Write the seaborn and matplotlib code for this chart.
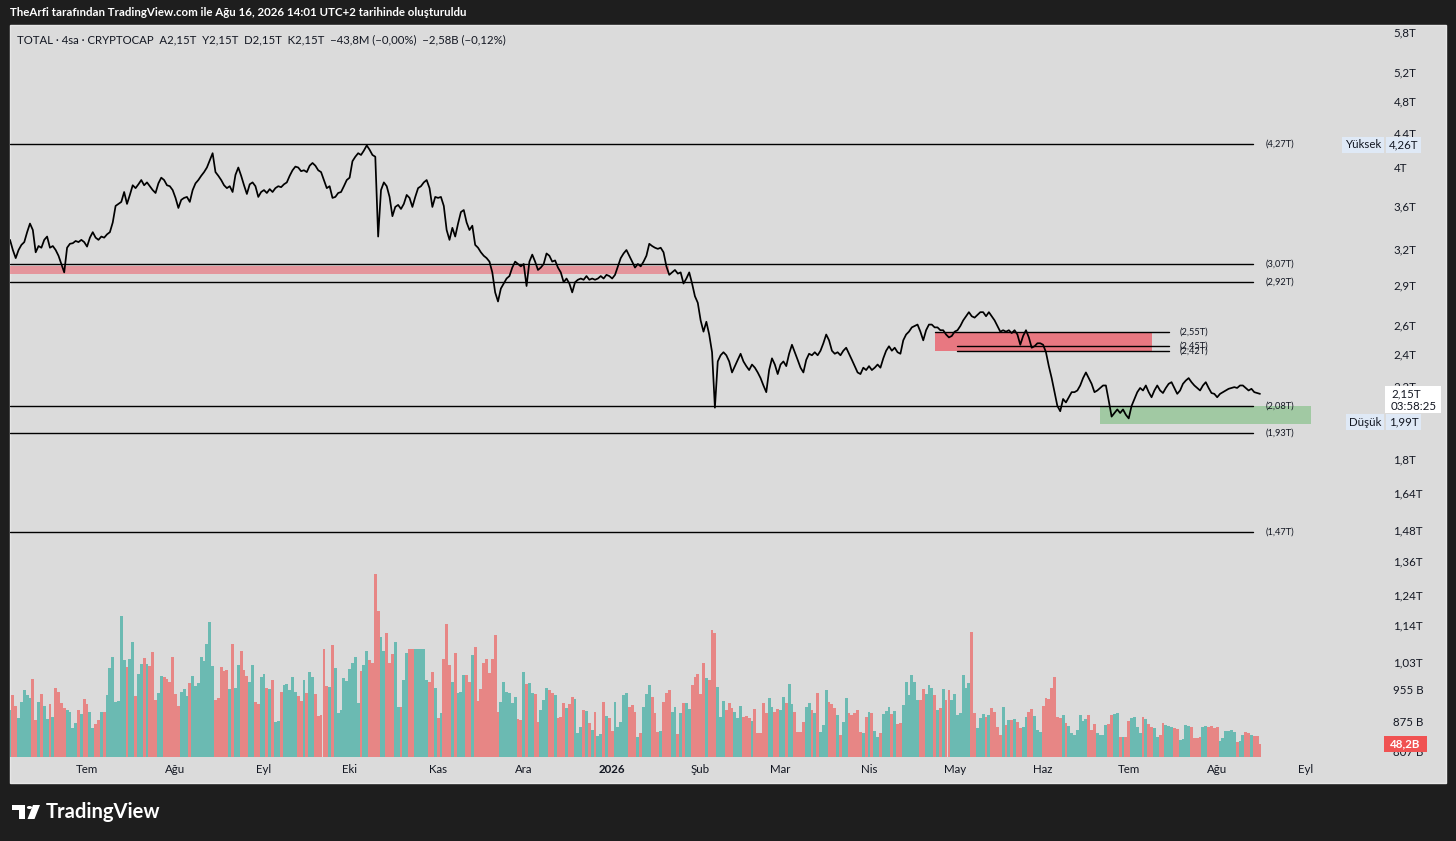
# TOTAL crypto market cap, 4h chart snapshot (TradingView style)

import matplotlib
matplotlib.use("Agg")
import matplotlib.pyplot as plt
from matplotlib.patches import Rectangle, Polygon, Circle
from matplotlib.ticker import NullLocator
import pandas as pd
import seaborn as sns

# ---- data ----------------------------------------------------------------
start_day = "2025-06-04"

# daily closes, trillion USD
price_t = [
    3.28, 3.19, 3.12, 3.19, 3.235, 3.26, 3.35, 3.43, 3.37, 3.17,
    3.225, 3.21, 3.28, 3.31, 3.21, 3.225, 3.19, 3.14, 3.07, 3.00,
    3.21, 3.245, 3.25, 3.27, 3.26, 3.28, 3.26, 3.22, 3.30, 3.35,
    3.30, 3.28, 3.31, 3.30, 3.33, 3.35, 3.44, 3.60, 3.62, 3.64,
    3.74, 3.62, 3.71, 3.81, 3.78, 3.82, 3.865, 3.81, 3.84, 3.80,
    3.76, 3.73, 3.83, 3.89, 3.865, 3.81, 3.80, 3.76, 3.68, 3.58,
    3.66, 3.68, 3.69, 3.64, 3.76, 3.83, 3.865, 3.91, 3.95, 4.00,
    4.08, 4.16, 3.95, 3.91, 3.865, 3.81, 3.78, 3.80, 3.74, 3.92,
    4.00, 3.91, 3.81, 3.72, 3.82, 3.84, 3.80, 3.69, 3.74, 3.76,
    3.73, 3.77, 3.74, 3.78, 3.80, 3.79, 3.82, 3.84, 3.91, 3.97,
    4.01, 4.00, 3.96, 3.97, 3.95, 4.02, 4.05, 4.02, 3.97, 3.95,
    3.865, 3.78, 3.80, 3.68, 3.69, 3.73, 3.74, 3.80, 3.865, 3.89,
    4.07, 4.12, 4.16, 4.14, 4.19, 4.25, 4.20, 4.14, 4.12, 3.31,
    3.76, 3.84, 3.80, 3.69, 3.50, 3.59, 3.61, 3.57, 3.62, 3.71,
    3.68, 3.59, 3.69, 3.78, 3.80, 3.84, 3.865, 3.78, 3.59, 3.69,
    3.68, 3.69, 3.60, 3.37, 3.28, 3.39, 3.31, 3.43, 3.54, 3.56,
    3.44, 3.37, 3.41, 3.235, 3.21, 3.17, 3.14, 3.12, 3.09, 3.00,
    2.84, 2.77, 2.87, 2.91, 2.95, 2.97, 3.04, 3.09, 3.07, 3.05,
    3.07, 2.89, 3.09, 3.15, 3.09, 3.02, 3.04, 3.07, 3.16, 3.14,
    3.09, 3.10, 3.04, 3.00, 2.92, 2.95, 2.91, 2.84, 2.92, 2.94,
    2.95, 2.94, 2.97, 2.94, 2.95, 2.94, 2.95, 2.97, 2.95, 2.98,
    2.97, 2.95, 2.98, 3.05, 3.12, 3.16, 3.19, 3.14, 3.09, 3.04,
    3.07, 3.05, 3.09, 3.14, 3.245, 3.225, 3.21, 3.20, 3.21, 3.17,
    3.05, 2.98, 3.00, 3.02, 2.99, 3.00, 2.91, 2.95, 3.00, 2.91,
    2.81, 2.76, 2.63, 2.55, 2.62, 2.53, 2.41, 2.07, 2.35, 2.39,
    2.41, 2.39, 2.35, 2.28, 2.32, 2.36, 2.40, 2.35, 2.32, 2.295,
    2.33, 2.31, 2.28, 2.245, 2.20, 2.16, 2.295, 2.37, 2.33, 2.27,
    2.33, 2.35, 2.32, 2.40, 2.46, 2.41, 2.36, 2.31, 2.28, 2.36,
    2.40, 2.39, 2.41, 2.39, 2.42, 2.47, 2.53, 2.49, 2.42, 2.40,
    2.41, 2.39, 2.42, 2.44, 2.40, 2.36, 2.32, 2.28, 2.27, 2.31,
    2.295, 2.32, 2.295, 2.31, 2.33, 2.31, 2.37, 2.42, 2.45, 2.42,
    2.44, 2.41, 2.40, 2.49, 2.53, 2.55, 2.58, 2.59, 2.60, 2.55,
    2.49, 2.56, 2.60, 2.60, 2.58, 2.58, 2.56, 2.56, 2.53, 2.51,
    2.52, 2.55, 2.56, 2.59, 2.63, 2.66, 2.69, 2.66, 2.65, 2.67,
    2.69, 2.69, 2.66, 2.69, 2.66, 2.63, 2.59, 2.55, 2.56, 2.55,
    2.56, 2.54, 2.56, 2.53, 2.46, 2.52, 2.56, 2.51, 2.44, 2.45,
    2.47, 2.47, 2.46, 2.41, 2.32, 2.245, 2.16, 2.08, 2.05, 2.12,
    2.10, 2.13, 2.16, 2.16, 2.17, 2.20, 2.245, 2.28, 2.245, 2.21,
    2.16, 2.17, 2.185, 2.20, 2.20, 2.11, 2.02, 2.04, 2.06, 2.04,
    2.06, 2.03, 2.01, 2.08, 2.12, 2.16, 2.185, 2.17, 2.20, 2.16,
    2.13, 2.17, 2.20, 2.17, 2.155, 2.185, 2.21, 2.22, 2.185, 2.15,
    2.17, 2.21, 2.23, 2.245, 2.22, 2.20, 2.185, 2.17, 2.20, 2.22,
    2.185, 2.155, 2.15, 2.13, 2.15, 2.16, 2.17, 2.18, 2.185, 2.19,
    2.185, 2.20, 2.20, 2.185, 2.17, 2.18, 2.16, 2.155, 2.15,
]

# daily volume, billion USD
volume_b = [
    188, 248, 204, 156, 220, 268, 248, 236, 312, 148,
    220, 252, 204, 152, 212, 160, 276, 260, 216, 196,
    188, 180, 116, 136, 188, 172, 232, 212, 180, 116,
    132, 148, 180, 180, 248, 356, 400, 220, 224, 564,
    388, 360, 392, 460, 244, 332, 372, 396, 372, 364,
    420, 228, 256, 324, 320, 312, 300, 400, 252, 204,
    260, 272, 244, 296, 324, 284, 296, 400, 384, 452,
    540, 364, 228, 236, 360, 344, 348, 272, 452, 276,
    368, 424, 348, 324, 300, 368, 220, 212, 320, 332,
    276, 272, 308, 140, 144, 260, 288, 292, 268, 320,
    260, 244, 224, 308, 256, 340, 320, 252, 164, 168,
    432, 284, 280, 448, 356, 176, 188, 316, 304, 352,
    376, 400, 216, 344, 368, 424, 388, 376, 732, 584,
    480, 424, 496, 376, 412, 460, 200, 200, 308, 416,
    432, 432, 432, 432, 432, 432, 308, 300, 340, 276,
    156, 176, 392, 532, 368, 300, 416, 256, 260, 328,
    328, 300, 408, 440, 224, 272, 376, 392, 336, 392,
    488, 180,
    220, 300, 260, 256, 216, 240, 152, 148, 340, 292,
    296, 256, 252, 140, 188, 228, 276, 268, 256, 248,
    156, 160, 216, 196, 212, 240, 232, 96, 120, 188,
    184, 136, 108, 180, 84, 92, 220, 164, 156, 104,
    220, 120, 140, 248, 256, 200, 208, 180, 80, 96,
    200, 252, 288, 240, 176, 100, 104, 220, 256, 268,
    180, 200, 92, 176, 216, 216, 192, 288, 320, 332,
    252, 376, 316, 308, 508, 496, 280, 160, 224, 188,
    216, 196, 180, 156, 204, 160, 164, 156, 144, 192,
    96, 96, 216, 176, 236, 200, 180, 192, 188, 240,
    216, 292, 212, 180, 100, 100, 140, 200, 216, 188,
    176, 256, 100, 128, 268, 220, 212, 196, 168, 88,
    140, 236, 176, 168, 176, 188, 100, 96, 160, 180,
    176, 104, 80, 96, 172, 184, 200, 172, 184, 132,
    136, 208, 300, 248, 328, 300, 228,
    228, 272, 252, 288, 276, 248, 188, 196, 272, 228,
    268, 228, 252, 168, 176, 328, 276, 296, 500, 176,
    116, 156, 172, 160, 168, 196, 180, 120, 88, 200,
    128, 148, 148, 152, 140, 116, 120, 160, 180, 192,
    164, 108, 100, 204, 236, 232, 276, 320, 160, 156,
    168, 136, 124, 96, 88, 108, 168, 144, 152, 168,
    108, 132, 96, 88, 88, 128, 132, 168, 172, 176,
    80, 80, 80, 144, 156, 160, 120, 96, 160, 152,
    132, 120, 116, 80, 88, 136, 128, 124, 120, 116,
    112, 68, 72, 128, 124, 120, 76, 76, 80, 120,
    124, 120, 124, 116, 120, 64, 76, 104, 104, 108,
    100, 60, 64, 88, 100, 96, 88, 84, 84, 52,
]

# horizontal levels drawn on the chart
levels_t = [4.27, 3.07, 2.92, 2.08, 1.93, 1.47]
level_labels = ["(4,27T)", "(3,07T)", "(2,92T)", "(2,08T)", "(1,93T)", "(1,47T)"]
level_end = "2026-08-13 12:00"
level_label_day = "2026-08-18"

short_levels_t = [2.55, 2.45, 2.42]
short_level_labels = ["(2,55T)", "(2,45T)", "(2,42T)"]
short_level_starts = ["2026-04-24", "2026-05-02", "2026-05-02"]
short_level_end = "2026-07-15"
short_label_day = "2026-07-18 18:00"

# shaded zones
zone_starts = ["2025-06-04", "2026-04-24", "2026-06-21"]
zone_ends = ["2026-01-21", "2026-07-09", "2026-09-03"]
zone_lows_t = [2.99, 2.42, 1.98]
zone_highs_t = [3.05, 2.55, 2.077]

price_ticks = [5.8, 5.2, 4.8, 4.4, 4.0, 3.6, 3.2, 2.9, 2.6, 2.4, 2.2, 1.8,
               1.64, 1.48, 1.36, 1.24, 1.14, 1.03, 0.955, 0.875, 0.807]
price_tick_labels = ["5,8T", "5,2T", "4,8T", "4,4T", "4T", "3,6T", "3,2T",
                     "2,9T", "2,6T", "2,4T", "2,2T", "1,8T", "1,64T", "1,48T",
                     "1,36T", "1,24T", "1,14T", "1,03T", "955 B", "875 B", "807 B"]

month_ticks = ["2025-07-01", "2025-08-01", "2025-09-01", "2025-10-01",
               "2025-11-01", "2025-12-01", "2026-01-01", "2026-02-01",
               "2026-03-01", "2026-04-01", "2026-05-01", "2026-06-01",
               "2026-07-01", "2026-08-01", "2026-09-01"]
month_labels = ["Tem", "Ağu", "Eyl", "Eki", "Kas", "Ara", "2026", "Şub",
                "Mar", "Nis", "May", "Haz", "Tem", "Ağu", "Eyl"]

period_high_t = 4.26
period_low_t = 1.99

# ---- figure ----------------------------------------------------------------
W, H = 1456, 841


def fx(px):
    return px / W


def fy(py):
    return 1 - py / H


sns.set_theme(style="white")
plt.rcParams["font.family"] = ["Lato", "DejaVu Sans"]

fig = plt.figure(figsize=(W / 100, H / 100), dpi=100, facecolor="#1e1e1e")

# light chart panel
fig.patches.append(Rectangle((fx(10), fy(783)), fx(1446) - fx(10), fy(25) - fy(783),
                             transform=fig.transFigure, facecolor="#dbdbdb",
                             edgecolor="#e6e6e6", linewidth=1, zorder=-1))

rect = [fx(10), fy(757), fx(1385) - fx(10), fy(25) - fy(757)]
vax = fig.add_axes(rect)
ax = fig.add_axes(rect, sharex=vax)
for a in (vax, ax):
    a.patch.set_visible(False)
    for s in a.spines.values():
        s.set_visible(False)

dates = pd.date_range(start_day, periods=len(price_t), freq="D")
df = pd.DataFrame({"date": dates, "price": price_t, "volume": volume_b})
df["up"] = df["price"].diff().fillna(0) >= 0

# volume pane
vol_colors = ["#26a69a" if u else "#ef5350" for u in df["up"]]
vax.bar(df["date"], df["volume"], width=1.0, color=vol_colors, alpha=0.62,
        linewidth=0)
vax.set_ylim(0, 2928)
vax.set_yticks([])
vax.tick_params(axis="x", length=0, labelbottom=False)

# price pane
ax.set_yscale("log")
ax.set_ylim(0.7941, 5.913)
start = pd.Timestamp(start_day)
ax.set_xlim(start, start + pd.Timedelta(days=481.8))

for s, e, lo, hi, c, al in zip(zone_starts, zone_ends, zone_lows_t, zone_highs_t,
                               ["#f23645", "#f23645", "#4caf50"], [0.42, 0.6, 0.4]):
    ax.fill_between([pd.Timestamp(s), pd.Timestamp(e)], lo, hi, color=c,
                    alpha=al, linewidth=0, zorder=1)

for lv, lab in zip(levels_t, level_labels):
    ax.plot([start, pd.Timestamp(level_end)], [lv, lv], color="black", lw=1.0, zorder=2)
    ax.text(pd.Timestamp(level_label_day), lv, lab, fontsize=6.7, color="#131722",
            va="center", ha="left")

for lv, lab, s in zip(short_levels_t, short_level_labels, short_level_starts):
    ax.plot([pd.Timestamp(s), pd.Timestamp(short_level_end)], [lv, lv],
            color="black", lw=1.0, zorder=2)
    ax.text(pd.Timestamp(short_label_day), lv, lab, fontsize=6.7, color="#131722",
            va="center", ha="left")

sns.lineplot(data=df, x="date", y="price", ax=ax, color="black", linewidth=1.25,
             zorder=3)
ax.set_xlabel("")
ax.set_ylabel("")

ax.yaxis.tick_right()
ax.set_yticks(price_ticks)
ax.set_yticklabels(price_tick_labels)
ax.yaxis.set_minor_locator(NullLocator())
ax.tick_params(axis="y", length=0, pad=6, labelsize=8.3, labelcolor="#131722")

ax.set_xticks(pd.to_datetime(month_ticks))
ax.set_xticklabels(month_labels)
ax.xaxis.set_minor_locator(NullLocator())
ax.tick_params(axis="x", length=0, pad=5, labelsize=8.3, labelcolor="#131722")
for t in ax.get_xticklabels():
    if t.get_text() == "2026":
        t.set_fontweight("bold")

# high / low markers on the price scale
yax = ax.get_yaxis_transform()


def axx(px):
    return (px - 10) / 1375


for txt, val, side in [("Yüksek", period_high_t, "right"), ("4,26T", period_high_t, "left"),
                       ("Düşük", period_low_t, "right"), ("1,99T", period_low_t, "left")]:
    ax.text(axx(1381) if side == "right" else axx(1389), val, txt, transform=yax,
            ha=side, va="center", fontsize=8.3, color="#131722", clip_on=False,
            bbox=dict(boxstyle="square,pad=0.22", fc="#dfe9f6", ec="none"))

# last price / countdown box
fig.patches.append(Rectangle((fx(1385), fy(413)), fx(1441) - fx(1385), fy(386) - fy(413),
                             transform=fig.transFigure, facecolor="white",
                             edgecolor="none", zorder=1))
fig.text(fx(1391), fy(394), "2,15T", fontsize=8.3, color="#131722", va="center")
fig.text(fx(1391), fy(407), "03:58:25", fontsize=8.3, color="#131722", va="center")

# last volume box
fig.patches.append(Rectangle((fx(1384), fy(752)), fx(1427) - fx(1384), fy(736) - fy(752),
                             transform=fig.transFigure, facecolor="#f05252",
                             edgecolor="none", zorder=1))
fig.text(fx(1405.5), fy(744), "48,2B", fontsize=8.3, color="white", va="center",
         ha="center", fontweight="bold")

# header and legend
fig.text(fx(10), fy(13), "TheArfi tarafından TradingView.com ile Ağu 16, 2026 14:01 "
         "UTC+2 tarihinde oluşturuldu", fontsize=8.3, color="white",
         fontweight="bold", va="center")
fig.text(fx(17), fy(40), "TOTAL · 4sa · CRYPTOCAP  A2,15T  Y2,15T  D2,15T  K2,15T  "
         "−43,8M (−0,00%)  −2,58B (−0,12%)", fontsize=8.2, color="#131722", va="center")

# TradingView logo
logo = [
    Polygon([(fx(12), fy(805)), (fx(25), fy(805)), (fx(25), fy(819)), (fx(19), fy(819)),
             (fx(19), fy(810)), (fx(12), fy(810))], closed=True),
    Circle((fx(29.5), fy(807.5)), 2.6 / W),
    Polygon([(fx(33), fy(805)), (fx(40), fy(805)), (fx(34.5), fy(819)), (fx(27.5), fy(819))],
            closed=True),
]
for p in logo:
    p.set_transform(fig.transFigure)
    p.set_facecolor("white")
    p.set_edgecolor("none")
    fig.patches.append(p)
fig.text(fx(46), fy(812), "TradingView", fontsize=14.5, color="white",
         fontweight="bold", va="center")

fig.savefig("out.png", dpi=100, facecolor=fig.get_facecolor())
